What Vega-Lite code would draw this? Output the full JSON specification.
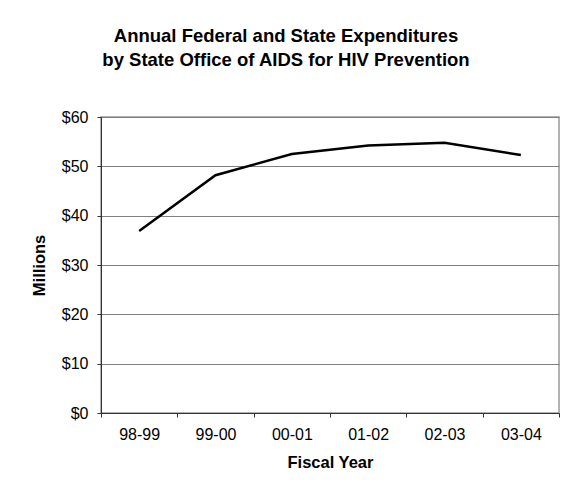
{
  "$schema": "https://vega.github.io/schema/vega-lite/v6.json",
  "width": 458,
  "height": 296,
  "autosize": {"type": "none"},
  "padding": {"left": 101, "top": 117, "right": 11, "bottom": 82},
  "background": "white",
  "title": {
    "text": ["Annual Federal and State Expenditures", "by State Office of AIDS for HIV Prevention"],
    "font": "Liberation Sans",
    "fontSize": 18.5,
    "fontWeight": "bold",
    "color": "black",
    "lineHeight": 24,
    "anchor": "middle",
    "frame": "group",
    "dx": -44,
    "offset": 40
  },
  "data": {
    "values": [
      {"year": "98-99", "value": 36.9},
      {"year": "99-00", "value": 48.2},
      {"year": "00-01", "value": 52.5},
      {"year": "01-02", "value": 54.2},
      {"year": "02-03", "value": 54.8},
      {"year": "03-04", "value": 52.3}
    ]
  },
  "mark": {"type": "line", "color": "black", "strokeWidth": 2.5},
  "encoding": {
    "x": {
      "field": "year",
      "type": "ordinal",
      "sort": null,
      "scale": {"paddingInner": 0, "paddingOuter": 0},
      "axis": {
        "title": "Fiscal Year",
        "labelAngle": 0,
        "tickBand": "extent",
        "grid": false,
        "domainColor": "#333333",
        "tickColor": "#333333",
        "tickSize": 4,
        "labelPadding": 9,
        "labelFont": "Liberation Sans",
        "labelFontSize": 16,
        "labelColor": "black",
        "titleFont": "Liberation Sans",
        "titleFontSize": 16.5,
        "titleFontWeight": "bold",
        "titleColor": "black",
        "titlePadding": 12
      }
    },
    "y": {
      "field": "value",
      "type": "quantitative",
      "scale": {"domain": [0, 60], "nice": false},
      "axis": {
        "title": "Millions",
        "values": [0, 10, 20, 30, 40, 50, 60],
        "format": "$,.0f",
        "grid": true,
        "gridColor": "#7f7f7f",
        "gridWidth": 1,
        "domainColor": "#333333",
        "tickColor": "#333333",
        "tickSize": 4,
        "labelPadding": 9,
        "labelFont": "Liberation Sans",
        "labelFontSize": 16,
        "labelColor": "black",
        "titleFont": "Liberation Sans",
        "titleFontSize": 16.5,
        "titleFontWeight": "bold",
        "titleColor": "black",
        "titlePadding": 14
      }
    }
  },
  "config": {
    "view": {"stroke": "#999999", "strokeWidth": 1.5}
  }
}
